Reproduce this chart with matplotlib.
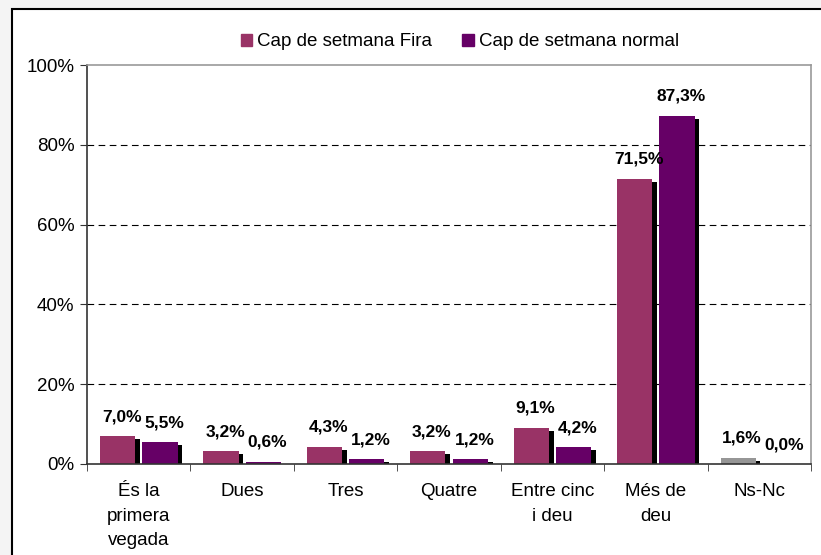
import matplotlib
matplotlib.use("Agg")
import matplotlib.pyplot as plt
import matplotlib.patches as mpatches
import matplotlib.patheffects as pe
import numpy as np

plt.rcParams['font.family'] = ['Liberation Sans', 'DejaVu Sans']

# dades
categories = ["És la\nprimera\nvegada", "Dues", "Tres", "Quatre", "Entre cinc\ni deu", "Més de\ndeu", "Ns-Nc"]
fira = [7.0, 3.2, 4.3, 3.2, 9.1, 71.5, 1.6]
normal = [5.5, 0.6, 1.2, 1.2, 4.2, 87.3, 0.0]
series_names = ["Cap de setmana Fira", "Cap de setmana normal"]

col_fira = "#993366"
col_normal = "#660066"
col_nsnc = "#969696"
fs = 13.5

fig = plt.figure(figsize=(8.21, 5.55), dpi=100, facecolor="#f4f4f4")
# marc blanc del gràfic
fig.patches.append(mpatches.Rectangle((12 / 821, -0.1), 1.1, 1 - 9 / 555 + 0.1,
                                      transform=fig.transFigure, facecolor="white",
                                      edgecolor="black", linewidth=1.5, zorder=-5))

ax = fig.add_axes([87 / 821, 1 - 464 / 555, (811 - 87) / 821, (464 - 65) / 555])
ax.set_facecolor("white")

x = np.arange(len(categories))
w = 0.34
off = 0.205
shadow = [pe.SimplePatchShadow(offset=(3.4, -2.2), shadow_rgbFace="black", alpha=1.0), pe.Normal()]

colors_fira = [col_fira] * (len(categories) - 1) + [col_nsnc]
b1 = ax.bar(x - off, fira, w, color=colors_fira, zorder=3)
b2 = ax.bar(x + off, normal, w, color=col_normal, zorder=3)
for b in list(b1) + list(b2):
    b.set_path_effects(shadow)

for xs, vals in [(x - off, fira), (x + off, normal)]:
    for xi, v in zip(xs, vals):
        ax.annotate(f"{v:.1f}%".replace(".", ","), (xi, v), xytext=(3, 14), textcoords="offset points",
                    ha="center", va="center", fontsize=fs - 1, fontweight="bold", zorder=5)

ax.set_xlim(-0.5, len(categories) - 0.5)
ax.set_ylim(0, 100)
ax.set_yticks(np.arange(0, 101, 20))
ax.set_yticklabels([f"{t}%" for t in range(0, 101, 20)], fontsize=fs)
ax.set_xticks(x)
ax.set_xticklabels(categories, fontsize=fs, linespacing=1.55, va="top")
ax.set_xticks(np.arange(-0.5, len(categories), 1), minor=True)
ax.tick_params(axis="x", which="major", length=0, pad=14)
ax.tick_params(axis="x", which="minor", length=5, color="#333333")
ax.tick_params(axis="y", length=5, color="#333333", pad=4)

for t in [20, 40, 60, 80]:
    ax.axhline(t, color="black", linestyle=(0, (6, 4)), linewidth=0.8, zorder=1)

ax.spines["left"].set_color("#333333")
ax.spines["bottom"].set_color("#333333")
ax.spines["top"].set_color("#999999")
ax.spines["right"].set_color("#999999")
for s in ax.spines.values():
    s.set_linewidth(1.2)
    s.set_zorder(4)

handles = [mpatches.Patch(color=col_fira), mpatches.Patch(color=col_normal)]
fig.legend(handles, series_names, loc="center", bbox_to_anchor=(460 / 821, 1 - 42 / 555), ncol=2,
           frameon=False, fontsize=fs, handlelength=0.6, handleheight=0.6, handletextpad=0.3,
           columnspacing=1.6)

fig.savefig("out.png", dpi=100, facecolor=fig.get_facecolor())
